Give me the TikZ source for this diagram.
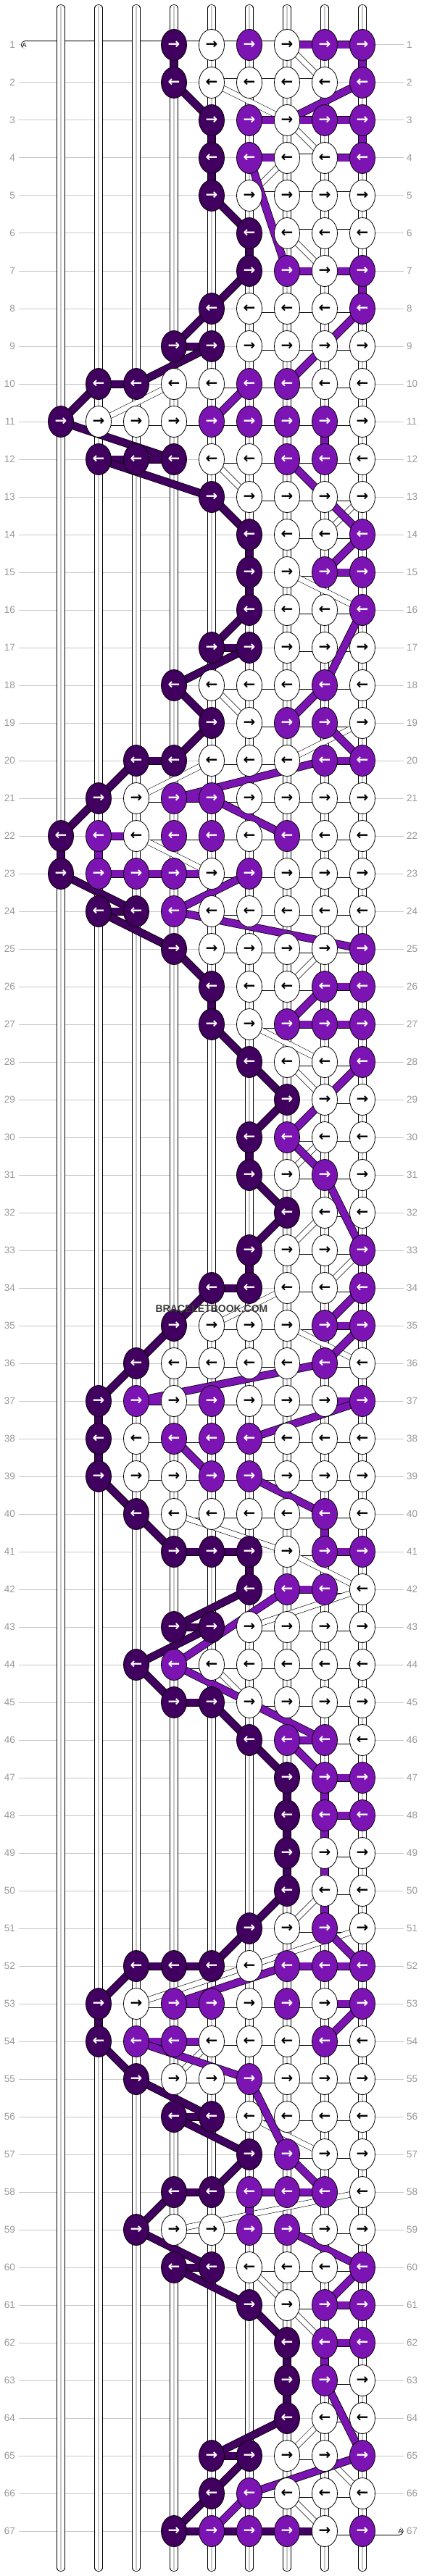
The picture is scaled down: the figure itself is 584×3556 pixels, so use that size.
\documentclass[tikz,border=0pt]{standalone}
\usepackage{fontspec}
\setmainfont{Liberation Sans}
\newfontfamily\arrowfont{DejaVu Sans}
\usetikzlibrary{shapes.geometric}
\definecolor{cD}{HTML}{41005F}
\definecolor{cP}{HTML}{7C14B4}
\definecolor{cW}{HTML}{FFFFFF}
\definecolor{tD}{HTML}{FFFFFF}
\definecolor{tP}{HTML}{FFFFFF}
\definecolor{tW}{HTML}{000000}
\definecolor{gl}{HTML}{C8C8C8}
\definecolor{lb}{HTML}{999999}
\definecolor{wm}{HTML}{3A3A3A}
\newcommand\lblfont{\fontsize{13.5}{13.5}\selectfont}
\pgfdeclarelayer{bg}\pgfdeclarelayer{mid}\pgfsetlayers{bg,mid,main}
\def\rowdata{%
1/{N,N,N,D,W,P,W,P,P},2/{N,N,N,D,W,W,W,W,P},3/{N,N,N,N,D,P,W,P,P},4/{N,N,N,N,D,P,W,W,P},
5/{N,N,N,N,D,W,W,W,W},6/{N,N,N,N,N,D,W,W,W},7/{N,N,N,N,N,D,P,W,P},8/{N,N,N,N,D,W,W,W,P},
9/{N,N,N,D,D,W,W,W,W},10/{N,D,D,W,W,P,P,W,W},11/{D,W,W,W,P,P,P,P,W},12/{N,D,D,D,W,W,P,P,W},
13/{N,N,N,N,D,W,W,W,W},14/{N,N,N,N,N,D,W,W,P},15/{N,N,N,N,N,D,W,P,P},16/{N,N,N,N,N,D,W,W,P},
17/{N,N,N,N,D,D,W,W,W},18/{N,N,N,D,W,W,W,P,W},19/{N,N,N,N,D,W,P,P,W},20/{N,N,D,D,W,W,W,P,P},
21/{N,D,W,P,P,W,W,W,W},22/{D,P,W,P,P,W,P,W,W},23/{D,P,P,P,W,P,W,W,W},24/{N,D,D,P,W,W,W,W,W},
25/{N,N,N,D,W,W,W,W,P},26/{N,N,N,N,D,W,W,P,P},27/{N,N,N,N,D,W,P,P,P},28/{N,N,N,N,N,D,W,W,P},
29/{N,N,N,N,N,N,D,W,W},30/{N,N,N,N,N,D,P,W,W},31/{N,N,N,N,N,D,W,P,W},32/{N,N,N,N,N,N,D,W,W},
33/{N,N,N,N,N,D,W,W,P},34/{N,N,N,N,D,D,W,W,P},35/{N,N,N,D,W,W,W,P,P},36/{N,N,D,W,W,W,W,P,W},
37/{N,D,P,W,P,W,W,W,P},38/{N,D,W,P,P,P,W,W,W},39/{N,D,W,W,P,P,W,W,W},40/{N,N,D,W,W,W,W,P,W},
41/{N,N,N,D,D,D,W,P,P},42/{N,N,N,N,N,D,P,P,W},43/{N,N,N,D,D,W,W,W,W},44/{N,N,D,P,W,W,W,W,W},
45/{N,N,N,D,D,W,W,W,W},46/{N,N,N,N,N,D,P,P,W},47/{N,N,N,N,N,N,D,P,P},48/{N,N,N,N,N,N,D,P,P},
49/{N,N,N,N,N,N,D,W,W},50/{N,N,N,N,N,N,D,W,W},51/{N,N,N,N,N,D,W,P,W},52/{N,N,D,D,D,W,P,P,P},
53/{N,D,W,P,P,W,P,W,P},54/{N,D,P,P,W,W,W,P,W},55/{N,N,D,W,W,P,W,W,W},56/{N,N,N,D,D,W,W,W,W},
57/{N,N,N,N,N,D,P,W,W},58/{N,N,N,D,D,P,P,P,W},59/{N,N,D,W,W,P,P,W,W},60/{N,N,N,D,D,W,W,W,P},
61/{N,N,N,N,N,D,W,P,P},62/{N,N,N,N,N,N,D,P,P},63/{N,N,N,N,N,N,D,P,W},64/{N,N,N,N,N,N,D,W,W},
65/{N,N,N,N,D,D,W,W,P},66/{N,N,N,N,D,P,W,W,W},67/{N,N,N,D,P,P,P,W,P}}
\def\darklinks{1-4/2-4,2-4/3-5,3-5/4-5,4-5/5-5,5-5/6-6,6-6/7-6,7-6/8-5,8-5/9-4,9-4/9-5,9-5/10-3,10-3/10-2,10-2/11-1,11-1/12-4,12-4/12-3,12-3/12-2,12-2/13-5,13-5/14-6,14-6/15-6,15-6/16-6,16-6/17-5,17-5/17-6,17-6/18-4,18-4/19-5,19-5/20-4,20-4/20-3,20-3/21-2,21-2/22-1,22-1/23-1,23-1/24-3,24-3/24-2,24-2/25-4,25-4/26-5,26-5/27-5,27-5/28-6,28-6/29-7,29-7/30-6,30-6/31-6,31-6/32-7,32-7/33-6,33-6/34-6,34-6/34-5,34-5/35-4,35-4/36-3,36-3/37-2,37-2/38-2,38-2/39-2,39-2/40-3,40-3/41-4,41-4/41-5,41-5/41-6,41-6/42-6,42-6/43-4,43-4/43-5,43-5/44-3,44-3/45-4,45-4/45-5,45-5/46-6,46-6/47-7,47-7/48-7,48-7/49-7,49-7/50-7,50-7/51-6,51-6/52-5,52-5/52-4,52-4/52-3,52-3/53-2,53-2/54-2,54-2/55-3,55-3/56-5,56-5/56-4,56-4/57-6,57-6/58-5,58-5/58-4,58-4/59-3,59-3/60-5,60-5/60-4,60-4/61-6,61-6/62-7,62-7/63-7,63-7/64-7,64-7/65-5,65-5/65-6,65-6/66-5,66-5/67-4,67-4/67-5,67-5/67-6,67-6/67-7,67-7/67-8}
\def\purplelinks{1-7/1-8,1-8/1-9,1-9/2-9,2-9/3-7,3-6/3-7,3-7/3-8,3-8/3-9,3-9/4-9,4-6/4-7,4-8/4-9,4-6/7-7,7-7/7-8,7-8/7-9,7-9/8-9,8-9/10-7,10-6/11-5,11-8/12-8,12-7/14-9,14-9/15-8,15-8/15-9,16-9/18-8,18-8/19-7,19-8/20-9,20-8/20-9,20-8/21-4,21-4/21-5,21-5/22-7,22-2/22-3,22-2/23-2,23-2/23-3,23-3/23-4,23-4/23-5,23-6/24-4,24-4/25-9,26-8/26-9,26-8/27-7,27-7/27-8,27-8/27-9,28-9/30-7,30-7/31-8,31-8/33-9,34-9/35-8,35-8/35-9,35-9/36-8,36-8/37-3,37-3/37-4,37-8/37-9,37-9/38-6,38-4/39-5,39-6/40-8,40-8/41-8,41-8/41-9,42-7/42-8,42-7/44-4,44-4/45-6,45-6/46-8,46-7/46-8,46-7/47-8,47-8/47-9,47-8/48-8,48-8/48-9,48-8/49-8,49-8/50-8,50-8/51-8,51-8/52-9,52-7/52-8,52-8/52-9,52-7/53-4,53-4/53-5,53-8/53-9,53-9/54-8,54-3/54-4,54-4/54-5,54-3/55-6,55-6/57-7,57-7/58-8,58-6/58-7,58-7/58-8,58-6/59-6,59-7/60-9,60-9/61-8,61-8/61-9,62-8/62-9,62-8/63-8,63-8/65-9,65-9/66-6,66-6/67-5}
\def\whitelinks{1-7/2-8,2-5/3-7,3-7/4-8,4-7/5-6,6-7/7-8,10-4/11-2,12-5/13-6,13-9/14-8,15-7/16-9,18-5/19-6,19-9/20-7,20-5/21-3,22-3/23-5,25-8/26-7,27-6/28-8,28-7/29-8,30-8/31-7,32-8/33-7,33-9/34-8,34-7/35-5,35-7/36-9,40-4/41-7,41-7/42-9,42-9/43-6,44-5/45-6,50-8/51-7,51-9/52-6,52-6/53-3,54-5/55-4,56-6/57-8,58-9/59-4,60-6/61-7,61-7/62-8,64-8/65-7,65-8/66-9,66-7/67-8}
\begin{document}
\begin{tikzpicture}[x=1pt,y=-1pt,
  knot/.style={ellipse,draw=black,line width=0.8pt,minimum width=35pt,minimum height=43pt,inner sep=0pt,
    fill=c#1,text=t#1,font=\arrowfont\bfseries\fontsize{20}{20}\selectfont},
  bandW/.style={draw=black,line width=0.8pt,double=white,double distance=9.4pt},
  bandT/.style={draw=black,line width=0.6pt,double=white,double distance=7pt},
  bandP/.style={draw=black,line width=0.8pt,double=cP,double distance=9.4pt},
  bandD/.style={draw=black,line width=0.8pt,double=cD,double distance=9.4pt},
  rowlbl/.style={text=lb,font=\lblfont,inner sep=0pt}]
\useasboundingbox (0,0) rectangle (584,3556);
% knots
\foreach \r/\s in \rowdata {
  \foreach \k [count=\c] in \s {
    \expandafter\xdef\csname K-\r-\c\endcsname{\k}
    \if\k N\else
      \node[knot=\k] (k-\r-\c) at (32+52*\c,10+52*\r) {\ifodd\r\relax →\else ←\fi};
    \fi
  }
}
\expandafter\gdef\csname YB-1-4\endcsname{}
\expandafter\gdef\csname NB-2-8\endcsname{}
\begin{pgfonlayer}{bg}
  \fill[white] (0,0) rectangle (584,3556);
  \foreach \r in {1,...,67}{
    \draw[gl,line width=1pt] (26,10+52*\r) -- (557,10+52*\r);
    \node[rowlbl,anchor=east] (ll-\r) at (21,10+52*\r) {\r};
    \node[rowlbl,anchor=west] (rl-\r) at (561,10+52*\r) {\r};
  }
  \draw[bandW,line cap=round] (34.5,62) -- (k-1-4.center);
  \foreach \c in {1,...,9}{
    \draw[black,line width=11.2pt,line cap=round] (32+52*\c,11.5) -- (32+52*\c,3544.5);
    \draw[white,line width=9.6pt,line cap=round] (32+52*\c,11.5) -- (32+52*\c,3544.5);
    \draw[gl,line width=1.4pt] (32+52*\c,8) -- (32+52*\c,3548);
  }
  \node[anchor=west,inner sep=0pt,font=\fontsize{9}{9}\selectfont] (aleft) at (30.5,62.5) {A};
\end{pgfonlayer}
\begin{pgfonlayer}{mid}
  % white bars between neighbouring knots
  \foreach \r in {1,...,67}{
    \foreach \c in {1,...,8}{
      \pgfmathtruncatemacro\d{\c+1}
      \edef\ka{\csname K-\r-\c\endcsname}\edef\kb{\csname K-\r-\d\endcsname}
      \def\ok{1}
      \if\ka N\def\ok{0}\fi \if\kb N\def\ok{0}\fi
      \if\ka D\def\ok{0}\fi \if\kb D\def\ok{0}\fi
      \ifcsname YB-\r-\c\endcsname\def\ok{1}\fi
      \ifcsname NB-\r-\c\endcsname\def\ok{0}\fi
      \ifnum\ok=1 \draw[bandW] (k-\r-\c.center) -- (k-\r-\d.center);\fi
    }
  }
  \draw[bandW,line cap=round] (k-67-9.center) -- (551,3494);
  \node[anchor=east,inner sep=0pt,font=\fontsize{9}{9}\selectfont] (aright) at (555.5,3494.5) {A};
  \foreach \a/\b in \whitelinks { \draw[bandT] (k-\a.center) -- (k-\b.center); }
  \foreach \a/\b in \purplelinks { \draw[bandP] (k-\a.center) -- (k-\b.center); }
  \foreach \a/\b in \darklinks { \draw[bandD] (k-\a.center) -- (k-\b.center); }
\end{pgfonlayer}
\node[text=wm,font=\bfseries\fontsize{14}{14}\selectfont,inner sep=0pt] (wmark) at (292,1807) {BRACELETBOOK.COM};
\end{tikzpicture}
\end{document}
